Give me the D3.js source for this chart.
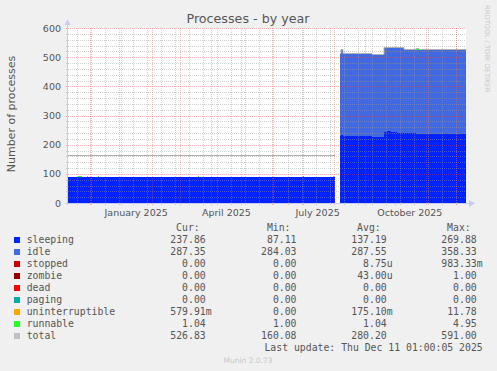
<!DOCTYPE html>
<html>
<head>
<meta charset="utf-8">
<script src="https://cdn.jsdelivr.net/npm/d3@7"></script>
<style>
  body { margin: 0; background: #f0f0f0; }
  svg { display: block; }
</style>
</head>
<body>
<svg id="chart" width="497" height="371"></svg>
<script>
// change points of the yearly graph (UTC days), values held until the next point
let dates = ['2024-11-08','2024-11-19','2024-11-23','2024-11-28','2024-11-29','2024-12-09','2024-12-10',
             '2025-02-01','2025-03-19','2025-03-20','2025-07-01','2025-07-02','2025-07-31','2025-08-01',
             '2025-08-02','2025-08-03',
             '2025-08-07','2025-08-08','2025-08-10','2025-08-30','2025-09-08','2025-09-20','2025-09-23',
             '2025-09-27','2025-10-03','2025-10-07','2025-10-10','2025-10-22','2025-10-25','2025-10-28',
             '2025-11-07','2025-11-09','2025-11-21','2025-11-24','2025-12-04','2025-12-06','2025-12-11'];

let sleeping = [89.5, 89.5, 89.5, 89.5, 89.5, 89.5, 89.5, 89.5, 89.5, 89.5, 89.5, 89.5, 89.5, 89.5, 89.5, null,
                230, 234, 229, 229, 227, 244, 247, 242, 241, 240, 239, 238, 238, 238, 238, 238, 238, 238, 238, 238, 237.86];
let idle = [null, null, null, null, null, null, null, null, null, null, null, null, null, null, null, null,
            284, 290, 285, 284.5, 284, 289, 287, 291, 289, 293, 287, 287, 287, 287.5, 287, 287.5, 287, 287.5, 287.5, 287.5, 287.35];
let uninterruptible = [0, 0, 0, 0, 0, 0, 0, 0, 0, 0, 0, 0, 0, 0, 0, null,
                       0, 0, 0, 0, 0, 0, 0.5, 0, 3, 0, 0, 0.5, 3, 0.2, 0.2, 0.2, 2.5, 0.3, 0.3, 0.3, 0.58];
let runnable = [1, 4, 1, 3.5, 1, 3.5, 1, 1, 4, 1, 3, 1, 4, 1, 1, null,
                1, 2.5, 1, 1, 1, 1, 2, 1, 1, 1, 1, 4, 1, 1, 3, 1, 1, 1, 3, 1.04, 1.04];
let total = [163.5, 164, 163.5, 163.5, 163.5, 163.5, 163, 163, 163, 163, 163, 163, 163.5, 163.5, 163.5, null,
             515, 527, 515, 514.5, 512, 534, 536.5, 534, 534, 534, 527, 530.5, 529, 526.7, 529, 526.7, 528.5, 526.8, 528.8, 526.8, 526.83];

let seriesKeys = ['sleeping', 'idle', 'uninterruptible', 'runnable'];

// legend table
let legendNames = ['sleeping', 'idle', 'stopped', 'zombie', 'dead', 'paging', 'uninterruptible', 'runnable', 'total'];
let legendColors = ['#0022ff', '#4169e1', '#cc0000', '#990000', '#ff0000', '#00aaaa', '#ffa500', '#22ff22', '#c0c0c0'];
let curVals = ['237.86', '287.35', '0.00', '0.00', '0.00', '0.00', '579.91m', '1.04', '526.83'];
let minVals = ['87.11', '284.03', '0.00', '0.00', '0.00', '0.00', '0.00', '1.00', '160.08'];
let avgVals = ['137.19', '287.55', '8.75u', '43.00u', '0.00', '0.00', '175.10m', '1.04', '280.20'];
let maxVals = ['269.88', '358.33', '983.33m', '1.00', '0.00', '0.00', '11.78', '4.95', '591.00'];
let yTicks = [0, 100, 200, 300, 400, 500, 600];

let colorOf = {};
legendNames.forEach((n, i) => colorOf[n] = legendColors[i]);

let parseDay = d3.utcParse('%Y-%m-%d');
let rows = dates.map((d, i) => ({
    date: parseDay(d),
    sleeping: sleeping[i],
    idle: idle[i],
    uninterruptible: uninterruptible[i],
    runnable: runnable[i],
    total: total[i]
}));

let svg = d3.select('#chart');
let plotLeft = 67, plotRight = 466, plotTop = 28, plotBottom = 203;

let x = d3.scaleUtc()
    .domain([parseDay('2024-11-08'), new Date(Date.UTC(2025, 11, 11, 1))])
    .range([plotLeft, plotRight]);
let y = d3.scaleLinear().domain([0, 600]).range([plotBottom, plotTop]);

// dotted patterns for the grid (1px on, 1px off)
let minorColor = 'rgba(150,150,150,0.45)';
let majorColor = 'rgba(235,70,70,0.38)';
let defs = svg.append('defs');
[['hMinor', 2, 1, minorColor], ['vMinor', 1, 2, minorColor],
 ['hMajor', 2, 1, majorColor], ['vMajor', 1, 2, majorColor]].forEach(p => {
    defs.append('pattern')
        .attr('id', p[0])
        .attr('patternUnits', 'userSpaceOnUse')
        .attr('width', p[1]).attr('height', p[2])
        .append('rect')
        .attr('width', 1).attr('height', 1)
        .attr('fill', p[3]);
});

svg.append('rect')
    .attr('x', plotLeft).attr('y', plotTop)
    .attr('width', plotRight - plotLeft).attr('height', plotBottom - plotTop)
    .attr('fill', 'white');

// stacked areas
let stack = d3.stack().keys(seriesKeys).value((d, k) => d[k] || 0);
let layers = stack(rows);
let area = d3.area()
    .defined(d => d.data.sleeping != null)
    .x(d => Math.round(x(d.data.date)))
    .y0(d => Math.round(y(d[0])))
    .y1(d => Math.round(y(d[1])))
    .curve(d3.curveStepAfter);

svg.append('g')
    .attr('shape-rendering', 'crispEdges')
    .selectAll('path')
    .data(layers)
    .enter()
    .append('path')
    .attr('fill', d => colorOf[d.key])
    .attr('d', area);

// total line
let totalLine = d3.line()
    .defined(d => d.total != null)
    .x(d => Math.round(x(d.date)))
    .y(d => Math.round(y(d.total)) + 0.5)
    .curve(d3.curveStepAfter);

svg.append('path')
    .datum(rows)
    .attr('fill', 'none')
    .attr('stroke', '#b0b0b0')
    .attr('stroke-width', 1)
    .attr('d', totalLine);

// grid, drawn on top like rrdtool
let grid = svg.append('g').attr('shape-rendering', 'crispEdges');
let minorY = d3.range(0, 601, 20).filter(v => v % 100 !== 0);
let weeks = d3.utcMonday.range(x.domain()[0], x.domain()[1]).filter((d, i) => i % 2 === 1);
let months = d3.utcMonth.range(x.domain()[0], x.domain()[1]);

function hLines(values, pat) {
    grid.append('g')
        .selectAll('rect')
        .data(values)
        .enter()
        .append('rect')
        .attr('x', plotLeft - 2)
        .attr('width', plotRight - plotLeft + 2)
        .attr('y', d => Math.round(y(d)))
        .attr('height', 1)
        .attr('fill', 'url(#' + pat + ')');
}

function vLines(values, pat) {
    grid.append('g')
        .selectAll('rect')
        .data(values)
        .enter()
        .append('rect')
        .attr('x', d => Math.round(x(d)))
        .attr('width', 1)
        .attr('y', plotTop)
        .attr('height', plotBottom - plotTop + 3)
        .attr('fill', 'url(#' + pat + ')');
}

hLines(minorY, 'hMinor');
vLines(weeks, 'vMinor');
hLines(yTicks, 'hMajor');
vLines(months, 'vMajor');

// axes with arrows
let axisColor = '#c8ccf0';
svg.append('line')
    .attr('x1', plotLeft + 0.5).attr('x2', plotLeft + 0.5)
    .attr('y1', plotBottom + 2).attr('y2', plotTop - 4)
    .attr('stroke', axisColor);
svg.append('line')
    .attr('x1', plotLeft - 2).attr('x2', plotRight + 4)
    .attr('y1', plotBottom + 0.5).attr('y2', plotBottom + 0.5)
    .attr('stroke', axisColor);
svg.append('path')
    .attr('d', `M${plotLeft - 2.5},${plotTop - 3}L${plotLeft + 0.5},${plotTop - 9}L${plotLeft + 3.5},${plotTop - 3}Z`)
    .attr('fill', axisColor);
svg.append('path')
    .attr('d', `M${plotRight + 3},${plotBottom - 3}L${plotRight + 9},${plotBottom + 0.5}L${plotRight + 3},${plotBottom + 4}Z`)
    .attr('fill', axisColor);

// tick labels
let textColor = '#555';
svg.append('g')
    .selectAll('text')
    .data(yTicks)
    .enter()
    .append('text')
    .attr('x', 61)
    .attr('y', d => y(d) + 3.5)
    .attr('text-anchor', 'end')
    .attr('fill', textColor)
    .style('font', '9.5px "DejaVu Sans"')
    .text(d => d);

let quarterMonths = d3.utcMonth.every(3).range(x.domain()[0], x.domain()[1]);
svg.append('g')
    .selectAll('text')
    .data(quarterMonths)
    .enter()
    .append('text')
    .attr('x', d => x(d3.utcDay.offset(d, 15)))
    .attr('y', 216)
    .attr('text-anchor', 'middle')
    .attr('fill', textColor)
    .style('font', '9.5px "DejaVu Sans"')
    .text(d3.utcFormat('%B %Y'));

svg.append('text')
    .attr('x', 248)
    .attr('y', 23)
    .attr('text-anchor', 'middle')
    .attr('fill', textColor)
    .style('font', '12.7px "DejaVu Sans"')
    .text('Processes - by year');

svg.append('text')
    .attr('transform', 'translate(15,114) rotate(-90)')
    .attr('text-anchor', 'middle')
    .attr('fill', textColor)
    .style('font', '11px "DejaVu Sans"')
    .text('Number of processes');

svg.append('text')
    .attr('transform', 'translate(485,5) rotate(90)')
    .attr('text-anchor', 'start')
    .attr('fill', '#c8c8c8')
    .style('font', '6.8px "DejaVu Sans"')
    .text('RRDTOOL / TOBI OETIKER');

// legend
let mono = '9.8px "DejaVu Sans Mono"';
let colX = [205.7, 296.5, 386.7, 476.7];
let headers = ['Cur:', 'Min:', 'Avg:', 'Max:'];
let columns = [curVals, minVals, avgVals, maxVals];

svg.append('g')
    .selectAll('text')
    .data(headers)
    .enter()
    .append('text')
    .attr('x', (d, i) => colX[i] - 6)
    .attr('y', 231)
    .attr('text-anchor', 'end')
    .attr('fill', textColor)
    .style('font', mono)
    .text(d => d);

let legendRows = svg.append('g')
    .selectAll('g')
    .data(legendNames)
    .enter()
    .append('g')
    .attr('transform', (d, i) => 'translate(0,' + (243 + i * 12) + ')');

legendRows.append('rect')
    .attr('x', 14).attr('y', -6)
    .attr('width', 6).attr('height', 6)
    .attr('fill', (d, i) => legendColors[i]);

legendRows.append('text')
    .attr('x', 26.7)
    .attr('fill', textColor)
    .style('font', mono)
    .text(d => d);

columns.forEach((vals, c) => {
    legendRows.append('text')
        .attr('x', colX[c])
        .attr('text-anchor', 'end')
        .attr('fill', textColor)
        .style('font', mono)
        .text((d, i) => vals[i].replace(/[mu]$/, ''));
    legendRows.append('text')
        .attr('x', colX[c])
        .attr('fill', textColor)
        .style('font', mono)
        .text((d, i) => (vals[i].match(/[mu]$/) || [''])[0]);
});

svg.append('text')
    .attr('x', 482.7)
    .attr('y', 351)
    .attr('text-anchor', 'end')
    .attr('fill', textColor)
    .style('font', mono)
    .text('Last update: Thu Dec 11 01:00:05 2025');

svg.append('text')
    .attr('x', 248)
    .attr('y', 363)
    .attr('text-anchor', 'middle')
    .attr('fill', '#c8c8c8')
    .style('font', '7.5px "DejaVu Sans"')
    .text('Munin 2.0.73');
</script>
</body>
</html>
